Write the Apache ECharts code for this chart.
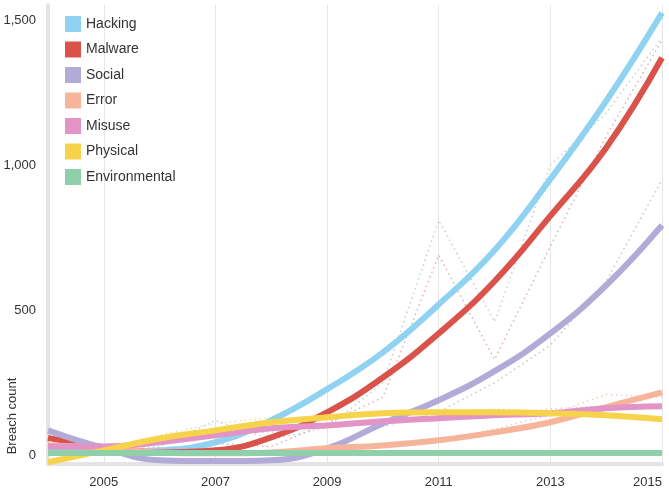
<!DOCTYPE html>
<html>
<head>
<meta charset="utf-8">
<script src="https://cdn.jsdelivr.net/npm/echarts@6/dist/echarts.min.js"></script>
<style>
  html, body { margin: 0; padding: 0; background: #fff; }
  #chart { width: 669px; height: 493px; }
</style>
</head>
<body>
<div id="chart"></div>
<script>
const years = [2004, 2005, 2006, 2007, 2008, 2009, 2010, 2011, 2012, 2013, 2014, 2015];
const yearLabels = [2005, 2007, 2009, 2011, 2013, 2015];
const countTicks = [0, 500, 1000, 1500];

// smoothed trend lines
const hacking = [20, 12, 17, 45, 121, 228, 355, 520, 707, 952, 1221, 1525];
const malware = [60, 28, 10, 17, 62, 148, 268, 420, 600, 825, 1060, 1370];
const social = [86, 25, -17, -20, -17, 24, 110, 190, 290, 420, 586, 793];
const error = [35, 25, 10, 7, 10, 24, 34, 52, 79, 114, 166, 217];
const misuse = [30, 30, 45, 69, 93, 103, 117, 128, 138, 145, 162, 169];
const physical = [-24, 17, 58, 86, 114, 131, 145, 148, 148, 145, 138, 124];
const environmental = [8, 8, 8, 8, 8, 8, 8, 8, 8, 8, 8, 8];

// yearly counts (dotted)
const hackingActual = [15, 10, 30, 120, 55, 95, 250, 810, 460, 1000, 1180, 1440];
const malwareActual = [50, 20, 15, 40, 30, 110, 200, 690, 330, 720, 1100, 1430];
const socialActual = [70, 20, 5, 10, 5, 30, 100, 150, 250, 380, 600, 950];
const errorActual = [30, 20, 10, 10, 15, 20, 30, 50, 90, 140, 210, 200];
const misuseActual = [25, 30, 60, 80, 80, 110, 120, 120, 140, 160, 170, 165];
const physicalActual = [5, 20, 70, 110, 130, 120, 150, 140, 160, 150, 130, 120];

const font = '"Liberation Sans", Arial, Helvetica, sans-serif';
const pair = (vals) => years.map((y, i) => [y, vals[i]]);

const trends = [
  {name: 'Hacking', data: hacking, color: '#8fd2f1'},
  {name: 'Malware', data: malware, color: '#d9534a'},
  {name: 'Social', data: social, color: '#b2aad7'},
  {name: 'Error', data: error, color: '#f6b49b'},
  {name: 'Misuse', data: misuse, color: '#e294c6'},
  {name: 'Physical', data: physical, color: '#f6d34b'},
  {name: 'Environmental', data: environmental, color: '#8fcfa9'}
];

const actuals = [
  {data: hackingActual, color: '#c3d0da'},
  {data: malwareActual, color: '#ddb3b3'},
  {data: socialActual, color: '#cfc2cf'},
  {data: errorActual, color: '#ecccc0'},
  {data: misuseActual, color: '#e6c8dc'},
  {data: physicalActual, color: '#e9e0bb'}
];

const chart = echarts.init(document.getElementById('chart'));
chart.setOption({
  animation: false,
  backgroundColor: '#fff',
  textStyle: {fontFamily: font},
  grid: {left: 48, right: 7, top: 5, bottom: 29, outerBoundsMode: 'none', containLabel: false},
  legend: {
    data: trends.map(t => t.name),
    orient: 'vertical',
    left: 60,
    top: 11,
    icon: 'rect',
    itemWidth: 16,
    itemHeight: 16,
    itemGap: 9.5,
    textStyle: {fontSize: 14, color: '#333', fontFamily: font}
  },
  graphic: [{
    type: 'text',
    x: 12,
    y: 416,
    rotation: Math.PI / 2,
    style: {
      text: 'Breach count',
      fontSize: 13,
      fontFamily: font,
      fill: '#333',
      textAlign: 'center',
      textVerticalAlign: 'middle'
    }
  }],
  xAxis: {
    type: 'value',
    min: 2004,
    max: 2015,
    axisLine: {show: true, onZero: false, lineStyle: {color: '#e4e4e4', width: 4}},
    axisTick: {show: false, customValues: yearLabels},
    axisLabel: {
      customValues: yearLabels,
      color: '#333',
      fontSize: 13,
      margin: 12,
      fontFamily: font,
      alignMaxLabel: 'right',
      formatter: v => String(v)
    },
    splitLine: {show: true, lineStyle: {color: '#e6e6e6', width: 1}}
  },
  yAxis: {
    type: 'value',
    min: -30,
    max: 1552,
    axisLine: {show: true, onZero: false, lineStyle: {color: '#e4e4e4', width: 4}},
    axisTick: {show: false, customValues: countTicks},
    axisLabel: {
      customValues: countTicks,
      color: '#333',
      fontSize: 13,
      margin: 12,
      fontFamily: font,
      formatter: v => v.toLocaleString('en-US')
    },
    splitLine: {show: false}
  },
  series: [
    ...actuals.map((a, i) => ({
      name: trends[i].name + ' count',
      type: 'line',
      data: pair(a.data),
      showSymbol: false,
      silent: true,
      z: 1,
      lineStyle: {color: a.color, width: 1.5, type: [1.5, 3.5]}
    })),
    ...trends.map(t => ({
      name: t.name,
      type: 'line',
      data: pair(t.data),
      smooth: 0.45,
      showSymbol: false,
      z: 2,
      itemStyle: {color: t.color},
      lineStyle: {color: t.color, width: 6}
    }))
  ]
});
</script>
</body>
</html>
